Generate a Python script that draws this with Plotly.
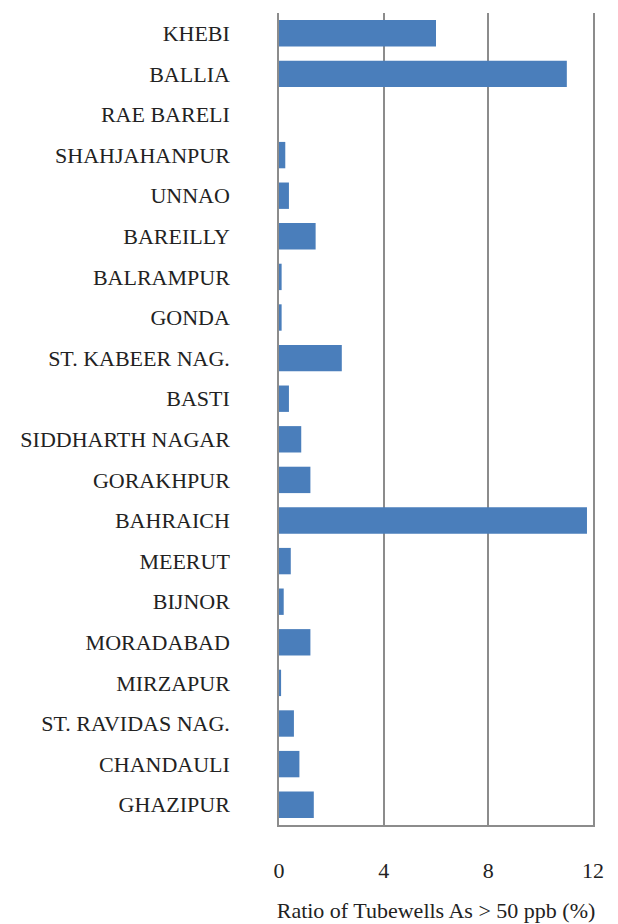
import plotly.graph_objects as go

districts = ["KHEBI", "BALLIA", "RAE BARELI", "SHAHJAHANPUR", "UNNAO", "BAREILLY",
             "BALRAMPUR", "GONDA", "ST. KABEER NAG.", "BASTI", "SIDDHARTH NAGAR",
             "GORAKHPUR", "BAHRAICH", "MEERUT", "BIJNOR", "MORADABAD", "MIRZAPUR",
             "ST. RAVIDAS NAG.", "CHANDAULI", "GHAZIPUR"]
ratio = [6.0, 11.0, 0.0, 0.24, 0.38, 1.4, 0.1, 0.1, 2.4, 0.38, 0.85,
         1.2, 11.77, 0.45, 0.18, 1.2, 0.08, 0.57, 0.78, 1.33]
x_ticks = [0, 4, 8, 12]
x_title = "Ratio of Tubewells As > 50 ppb (%)"

font_family = "Liberation Serif, Times New Roman, serif"

fig = go.Figure(go.Bar(
    x=ratio, y=districts, orientation="h",
    marker=dict(color="#4A7EBB", line=dict(color="#3F6FA8", width=0)),
    width=0.65,
))

# page body has an 8px default margin; compensate so the plot lands where the reference has it
fig.update_layout(
    width=610, height=916,
    margin=dict(l=271, r=25, t=5, b=92),
    paper_bgcolor="white", plot_bgcolor="white",
    font=dict(family=font_family, size=22, color="#222222"),
    showlegend=False,
    bargap=0.35,
)
fig.update_xaxes(
    range=[0, 12], tickvals=x_ticks, ticktext=[str(t) for t in x_ticks],
    showgrid=True, gridcolor="#8C8C8C", gridwidth=1.5,
    showline=True, linecolor="#8C8C8C", linewidth=1.5,
    zeroline=False, ticks="", ticklabelstandoff=25,
    title=dict(text=x_title, standoff=20, font=dict(size=22)),
    tickfont=dict(size=22),
)
fig.update_yaxes(
    categoryorder="array", categoryarray=districts,
    range=[19.5, -0.5],
    showgrid=False, showline=True, linecolor="#8C8C8C", linewidth=1.5,
    mirror=True,
    ticks="", ticklabelstandoff=43, tickfont=dict(size=22),
)

fig.write_html("out.html")
